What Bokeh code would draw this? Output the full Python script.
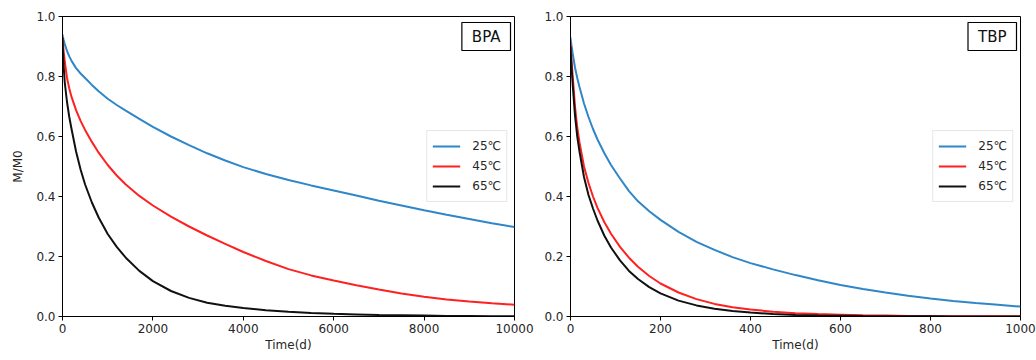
from bokeh.plotting import figure
from bokeh.layouts import row
from bokeh.models import Range1d, FixedTicker, Legend, LegendItem, Label, PrintfTickFormatter
from bokeh.embed import file_html
from bokeh.resources import INLINE

# ---- data ----
series_labels = ["25℃", "45℃", "65℃"]
series_colors = ["#2f86c8", "#ff2020", "#111111"]

bpa_time = [0, 10, 25, 50, 100, 150, 200, 300, 400, 500, 650, 800, 1000, 1200, 1400,
            1700, 2000, 2400, 2800, 3200, 3600, 4000, 4500, 5000, 5500, 6000, 6500,
            7000, 7500, 8000, 8500, 9000, 9500, 10000]
bpa_25 = [0.94, 0.932, 0.922, 0.908, 0.885, 0.867, 0.852, 0.828, 0.810, 0.795, 0.772,
          0.751, 0.726, 0.705, 0.686, 0.659, 0.632, 0.600, 0.571, 0.544, 0.520, 0.498,
          0.475, 0.455, 0.437, 0.420, 0.403, 0.386, 0.370, 0.354, 0.339, 0.325, 0.311,
          0.298]
bpa_45 = [0.93, 0.91, 0.885, 0.85, 0.795, 0.76, 0.732, 0.688, 0.652, 0.622, 0.582,
          0.546, 0.505, 0.470, 0.440, 0.402, 0.370, 0.333, 0.300, 0.270, 0.242, 0.215,
          0.185, 0.158, 0.137, 0.120, 0.104, 0.090, 0.077, 0.066, 0.057, 0.050, 0.044,
          0.039]
bpa_65 = [0.93, 0.885, 0.835, 0.78, 0.715, 0.665, 0.625, 0.55, 0.49, 0.44, 0.38, 0.33,
          0.275, 0.232, 0.196, 0.152, 0.118, 0.085, 0.062, 0.046, 0.036, 0.028, 0.021,
          0.016, 0.012, 0.009, 0.007, 0.005, 0.004, 0.003, 0.002, 0.0015, 0.001, 0.001]

tbp_time = [0, 2, 5, 10, 15, 20, 30, 40, 50, 60, 75, 90, 110, 130, 150, 175, 200, 240,
            280, 320, 360, 400, 450, 500, 550, 600, 650, 700, 750, 800, 850, 900, 950,
            1000]
tbp_25 = [0.93, 0.905, 0.875, 0.83, 0.795, 0.765, 0.71, 0.665, 0.625, 0.59, 0.545,
          0.505, 0.46, 0.418, 0.384, 0.351, 0.322, 0.282, 0.249, 0.222, 0.198, 0.178,
          0.157, 0.138, 0.121, 0.105, 0.092, 0.080, 0.069, 0.060, 0.052, 0.045, 0.039,
          0.033]
tbp_45 = [0.91, 0.86, 0.80, 0.70, 0.63, 0.58, 0.50, 0.445, 0.40, 0.362, 0.315, 0.276,
          0.232, 0.196, 0.166, 0.135, 0.11, 0.08, 0.058, 0.042, 0.031, 0.023, 0.016,
          0.011, 0.008, 0.006, 0.004, 0.003, 0.002, 0.0015, 0.001, 0.001, 0.0008, 0.0006]
tbp_65 = [0.90, 0.84, 0.77, 0.67, 0.60, 0.55, 0.465, 0.405, 0.36, 0.32, 0.27, 0.23,
          0.187, 0.152, 0.125, 0.098, 0.077, 0.053, 0.037, 0.026, 0.018, 0.013, 0.008,
          0.005, 0.0035, 0.0025, 0.0015, 0.001, 0.0007, 0.0005, 0.0003, 0.0002, 0.0002,
          0.0001]

bpa_xticks = [0, 2000, 4000, 6000, 8000, 10000]
tbp_xticks = [0, 200, 400, 600, 800, 1000]
yticks = [0, 0.2, 0.4, 0.6, 0.8, 1.0]

FONT = "DejaVu Sans"


def panel(t, ys, xmax, xticks, name, width, left, right, ylabel):
    p = figure(width=width, height=360, x_range=Range1d(0, xmax), y_range=Range1d(0, 1),
               output_backend="svg", toolbar_location=None,
               min_border_left=left, min_border_right=right,
               min_border_top=16, min_border_bottom=44)
    p.grid.visible = False
    p.outline_line_color = "black"
    p.outline_line_width = 1
    p.background_fill_color = "white"
    p.border_fill_color = "white"
    for ax in (p.xaxis[0], p.yaxis[0]):
        ax.axis_line_color = "black"
        ax.major_tick_line_color = "black"
        ax.major_tick_out = 4
        ax.major_tick_in = 0
        ax.minor_tick_line_color = None
        ax.major_label_text_font = FONT
        ax.major_label_text_font_size = "12px"
        ax.major_label_text_color = "#262626"
        ax.axis_label_text_font = FONT
        ax.axis_label_text_font_size = "12px"
        ax.axis_label_text_font_style = "normal"
        ax.axis_label_text_color = "#262626"
        ax.major_label_standoff = 3
    p.xaxis[0].ticker = FixedTicker(ticks=xticks)
    p.yaxis[0].ticker = FixedTicker(ticks=yticks)
    p.yaxis[0].formatter = PrintfTickFormatter(format="%.1f")
    p.xaxis[0].axis_label = "Time(d)"
    p.xaxis[0].axis_label_standoff = 2
    if ylabel:
        p.yaxis[0].axis_label = ylabel
        p.yaxis[0].axis_label_standoff = 8

    items = []
    for y, lab, col in zip(ys, series_labels, series_colors):
        r = p.line(t, y, line_color=col, line_width=2)
        items.append(LegendItem(label=lab, renderers=[r]))
    leg = Legend(items=items, location="center_right", margin=7, padding=5,
                 spacing=0, glyph_width=28, glyph_height=20, label_standoff=12,
                 label_height=20, label_text_font=FONT, label_text_font_size="12px",
                 label_text_color="#262626", border_line_color="#d0d0d0",
                 background_fill_alpha=0.9)
    p.add_layout(leg, "center")

    lbl = Label(x=xmax, y=1.0, x_offset=-4, y_offset=-6, text=name, anchor="top_right",
                text_font=FONT, text_font_size="15px", text_color="#111111",
                border_line_color="black", border_line_width=1.2,
                background_fill_color="white", padding=(10, 5))
    p.add_layout(lbl)
    return p


p1 = panel(bpa_time, [bpa_25, bpa_45, bpa_65], 10000, bpa_xticks, "BPA", 536, 62, 22, "M/M0")
p2 = panel(tbp_time, [tbp_25, tbp_45, tbp_65], 1000, tbp_xticks, "TBP", 500, 34, 16, None)

layout = row(p1, p2)
open("out.html", "w").write(file_html(layout, INLINE))
